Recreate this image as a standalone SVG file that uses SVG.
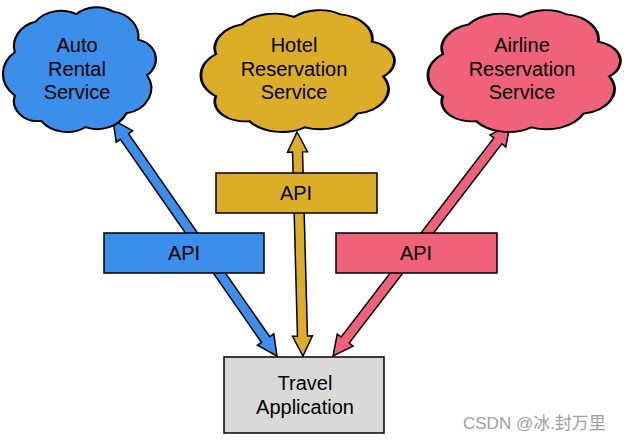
<svg xmlns="http://www.w3.org/2000/svg" width="631" height="443" viewBox="0 0 631 443">
<style>
.t{font-family:"Liberation Sans","Noto Sans",sans-serif;font-size:20px;fill:#000;text-anchor:middle}
.o{stroke:#000;stroke-width:1.5;vector-effect:non-scaling-stroke}
.wm{font-family:"Liberation Sans","Noto Sans CJK SC",sans-serif;font-size:17px;fill:#a0a0a0}
</style>
<defs>
<path id="cloud" d="M 8,38 A 20,20 0 0 1 22,14 A 22,22 0 0 1 50,8 A 20,20 0 0 1 75,6 A 20,20 0 0 1 92,28 A 16,16 0 0 1 98,56 A 20,20 0 0 1 84,86 A 22,22 0 0 1 56,97 A 22,22 0 0 1 26,92 A 16,16 0 0 1 8,72 A 22,22 0 0 1 8,38 Z"/>
</defs>
<rect width="631" height="443" fill="#fff"/>
<g id="connectors">
<polygon class="o" fill="#3B8EEA" transform="translate(113,120) rotate(55.2)" points="0,0 20,-10 20,-5 267.4,-5 267.4,-10 287.4,0 267.4,10 267.4,5 20,5 20,10"/>
<polygon class="o" fill="#DCAD27" transform="translate(297,132) rotate(88.47)" points="0,0 20,-10 20,-5 204.1,-5 204.1,-10 224.1,0 204.1,10 204.1,5 20,5 20,10"/>
<polygon class="o" fill="#F06279" transform="translate(510,125) rotate(127.46)" points="0,0 20,-10 20,-5 271,-5 271,-10 291,0 271,10 271,5 20,5 20,10"/>
</g>
<g id="api-auto">
<rect class="o" x="104" y="233" width="160" height="40" fill="#3B8EEA"/>
<text class="t" x="184" y="260">API</text>
</g>
<g id="api-hotel">
<rect class="o" x="216" y="173" width="161" height="40" fill="#DCAD27"/>
<text class="t" x="296" y="200">API</text>
</g>
<g id="api-airline">
<rect class="o" x="336" y="233" width="161" height="40" fill="#F06279"/>
<text class="t" x="416" y="260">API</text>
</g>
<g id="auto-rental">
<use href="#cloud" class="o" fill="#3B8EEA" transform="translate(3,4) scale(1.47,1.27)"/>
<text class="t" x="77" y="52">Auto</text>
<text class="t" x="77" y="76">Rental</text>
<text class="t" x="77" y="99">Service</text>
</g>
<g id="hotel-reservation">
<use href="#cloud" class="o" fill="#DCAD27" transform="translate(201,7) scale(1.86,1.24)"/>
<text class="t" x="294" y="52">Hotel</text>
<text class="t" x="294" y="76">Reservation</text>
<text class="t" x="294" y="99">Service</text>
</g>
<g id="airline-reservation">
<use href="#cloud" class="o" fill="#F06279" transform="translate(428,7) scale(1.85,1.24)"/>
<text class="t" x="522" y="52">Airline</text>
<text class="t" x="522" y="76">Reservation</text>
<text class="t" x="522" y="99">Service</text>
</g>
<g id="travel-application">
<rect class="o" x="224" y="357" width="160" height="76" fill="#D9D9D9"/>
<text class="t" x="305" y="390">Travel</text>
<text class="t" x="305" y="414">Application</text>
</g>
<text class="wm" x="463" y="429">CSDN @冰.封万里</text>
</svg>
